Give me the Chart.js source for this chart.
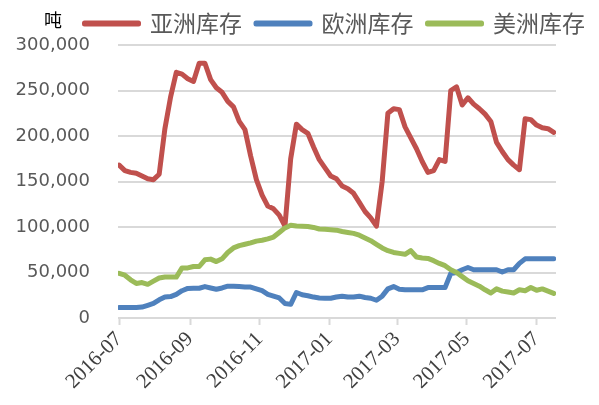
<!DOCTYPE html>
<html>
<head>
<meta charset="utf-8">
<script src="https://cdn.jsdelivr.net/npm/chart.js@4"></script>
<style>
  html, body { margin: 0; padding: 0; background: #fff; }
  #wrap { width: 599px; height: 405px; }
</style>
</head>
<body>
<div id="wrap"><canvas id="chart" width="599" height="405"></canvas></div>
<script>
// 库存（吨），每 5 天取一个点，从 2016-07-01 开始
const START = '2016-07-01';
const STEP_DAYS = 5;

const asia = [
  168000, 162000, 160000, 159000, 156000, 153000, 152000, 158000, 208000, 243000,
  270000, 268000, 263000, 260000, 280000, 280000, 262000, 253000, 248000, 238000,
  232000, 216000, 207000, 178000, 152000, 135000, 123000, 120000, 113000, 101000,
  175000, 213000, 207000, 203000, 188000, 174000, 165000, 156000, 153000, 145000,
  142000, 137000, 127000, 117000, 110000, 101000, 150000, 225000, 230000, 229000,
  210000, 198000, 186000, 172000, 160000, 162000, 174000, 172000, 250000, 254000,
  234000, 242000, 235000, 230000, 224000, 216000, 193000, 183000, 174000, 168000,
  163000, 219000, 218000, 212000, 209000, 208000, 204000
];

const europe = [
  11500, 11500, 11500, 11500, 12000, 14000, 16000, 20000, 23000, 23500,
  26000, 30000, 32500, 32700, 32700, 34500, 33000, 31600, 33000, 35000,
  35000, 34500, 34000, 34000, 32000, 30000, 26000, 24000, 22000, 16000,
  15000, 28000, 25500, 24500, 23000, 22000, 21700, 21700, 23000, 24000,
  23000, 23000, 24000, 22500, 21700, 19500, 24000, 32000, 34500, 31600,
  31000, 31000, 31000, 31000, 33400, 33400, 33400, 33400, 49000, 50000,
  53000, 55500, 53000, 53000, 53000, 53000, 53000, 50500, 53000, 53000,
  60000, 65000, 65000, 65000, 65000, 65000, 65000
];

const america = [
  49000, 47000, 42000, 38000, 39000, 37000, 40500, 44000, 45000, 45000,
  45000, 55000, 55000, 56600, 56600, 64000, 64700, 62000, 65000, 72000,
  77000, 79500, 81000, 82500, 84500, 85500, 87000, 89000, 94000, 99000,
  102000, 101000, 100700, 100500, 99500, 97800, 97500, 97000, 96500, 95000,
  94000, 93000, 91000, 88000, 85000, 81000, 77000, 74000, 72000, 71000,
  70000, 74000, 67000, 66000, 65500, 63000, 60000, 57500, 53000, 50000,
  45500, 41000, 38000, 35000, 31000, 27500, 32000, 29500, 28500, 27500,
  31000, 30000, 33500, 30500, 32000, 29500, 27000
];

const seriesNames = ['亚洲库存', '欧洲库存', '美洲库存'];
const tickMonths = ['2016-07', '2016-09', '2016-11', '2017-01', '2017-03', '2017-05', '2017-07'];
const yTicks = [0, 50000, 100000, 150000, 200000, 250000, 300000];

const COLORS = { red: '#C0504D', blue: '#4F81BD', green: '#9BBB59', grid: '#D9D9D9', text: '#595959' };

const DAY = 86400000;
const t0 = Date.parse(START);
const dayOf = s => Math.round((Date.parse(s) - t0) / DAY);
const days = asia.map((_, i) => i * STEP_DAYS);
const toPoints = vals => vals.map((v, i) => ({ x: days[i], y: v }));

const tickDay = {};
tickMonths.forEach(m => { tickDay[dayOf(m + '-01')] = m; });

// y 轴单位“吨”
const unitLabel = {
  id: 'unitLabel',
  afterDraw(chart) {
    const ctx = chart.ctx;
    ctx.save();
    ctx.font = '18px "Noto Sans CJK SC"';
    ctx.fillStyle = '#000';
    ctx.textAlign = 'center';
    ctx.textBaseline = 'middle';
    ctx.fillText('吨', 53, 20);
    ctx.restore();
  }
};

function lineSet(label, data, color, order) {
  return {
    label, data: toPoints(data),
    borderColor: color, backgroundColor: color,
    borderWidth: 5, pointRadius: 0, tension: 0,
    borderJoinStyle: 'round', borderCapStyle: 'round',
    order
  };
}

new Chart(document.getElementById('chart'), {
  type: 'line',
  data: {
    datasets: [
      lineSet(seriesNames[0], asia, COLORS.red, 3),
      lineSet(seriesNames[1], europe, COLORS.blue, 2),
      lineSet(seriesNames[2], america, COLORS.green, 1)
    ]
  },
  options: {
    responsive: false,
    animation: false,
    layout: { padding: { left: 0, right: 0, top: -2, bottom: 0 } },
    plugins: {
      legend: {
        align: 'end',
        labels: {
          sort: (a, b) => a.datasetIndex - b.datasetIndex,
          boxWidth: 54, boxHeight: 1,
          padding: 14,
          color: COLORS.text,
          font: { family: '"Noto Sans CJK SC"', size: 23 }
        }
      },
      tooltip: { enabled: false }
    },
    scales: {
      x: {
        type: 'linear',
        min: -1, max: 382,
        afterBuildTicks: axis => { axis.ticks = Object.keys(tickDay).map(d => ({ value: +d })); },
        afterFit: axis => { axis.paddingLeft = 0; axis.paddingRight = 43; axis.height = 87; },
        ticks: {
          autoSkip: false, minRotation: 45, maxRotation: 45, padding: 2,
          color: '#404040',
          font: { family: '"Liberation Serif"', size: 21 },
          callback: v => tickDay[v] || ''
        },
        grid: { drawOnChartArea: false, drawTicks: true, tickLength: 7, tickColor: COLORS.grid, tickWidth: 2 },
        border: { display: false }
      },
      y: {
        min: 0, max: 300000,
        afterBuildTicks: axis => { axis.ticks = yTicks.map(v => ({ value: v })); },
        afterFit: axis => { axis.width = 118; },
        ticks: {
          padding: 28,
          color: COLORS.text,
          font: { family: '"DejaVu Sans"', size: 18 },
          callback: v => v.toLocaleString('en-US')
        },
        grid: { color: COLORS.grid, lineWidth: 2, drawTicks: false },
        border: { display: false }
      }
    }
  },
  plugins: [unitLabel]
});
</script>
</body>
</html>
